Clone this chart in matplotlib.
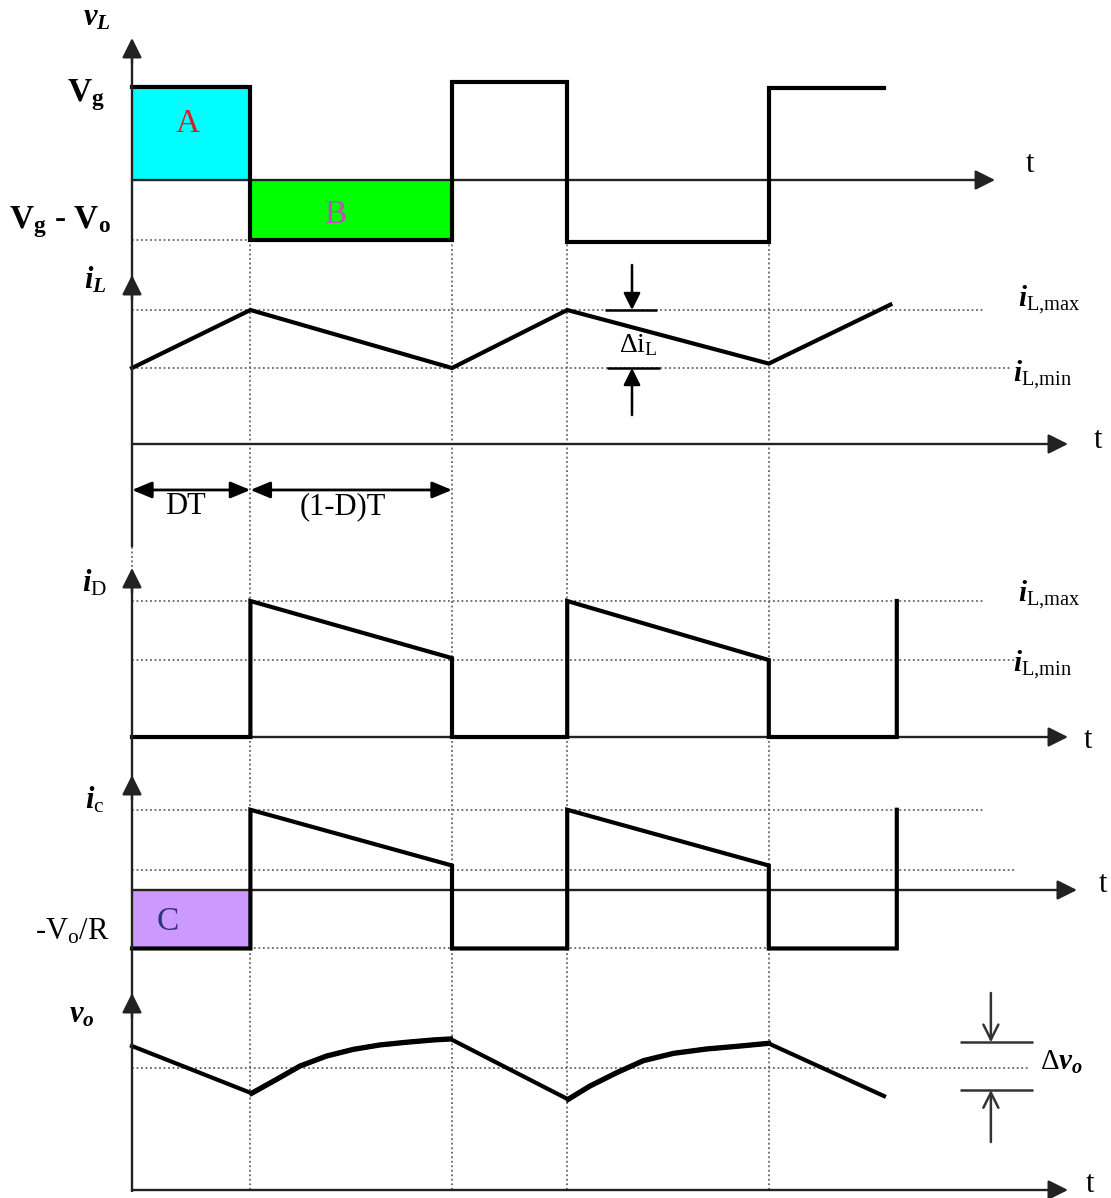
import numpy as np
import matplotlib.pyplot as plt

plt.rcParams['font.family'] = 'Liberation Serif'
plt.rcParams['mathtext.fontset'] = 'custom'
plt.rcParams['mathtext.rm'] = 'Liberation Serif'
plt.rcParams['mathtext.it'] = 'Liberation Serif:italic'
plt.rcParams['mathtext.bf'] = 'Liberation Serif:bold'
plt.rcParams['mathtext.bfit'] = 'Liberation Serif:italic:bold'

# time in units of T, switching edges at DT, T, T+DT, 2T
D = 0.37
t_edges = [0, 0.37, 1.0, 1.36, 1.99]

# v_L (V_g = 1)
vL_t = [0, 0.37, 0.37, 1.0, 1.0, 1.36, 1.36, 1.99, 1.99, 2.35]
vL_v = [1.0, 1.0, -0.645, -0.645, 1.05, 1.05, -0.665, -0.665, 0.99, 0.99]
Vg_minus_Vo = -0.645

# i_L
iL_t = [0, 0.37, 1.0, 1.36, 1.99, 2.37]
iL_v = [0.567, 1.0, 0.567, 1.0, 0.6, 1.04]
iL_max, iL_min = 1.0, 0.567

# i_D
iD_t = [0, 0.37, 0.37, 1.0, 1.0, 1.36, 1.36, 1.99, 1.99, 2.39, 2.39]
iD_v = [0, 0, 1.0, 0.58, 0, 0, 1.0, 0.566, 0, 0, 1.0]

# i_c
ic_t = [0, 0.37, 0.37, 1.0, 1.0, 1.36, 1.36, 1.99, 1.99, 2.39, 2.39]
ic_v = [-0.43, -0.43, 0.59, 0.18, -0.43, -0.43, 0.59, 0.18, -0.43, -0.43, 0.59]
ic_top, ic_low, ic_neg = 0.59, 0.15, -0.43

# v_o (V_o = 1), charging arcs read point by point
vo_t = [0, 0.374, 0.452, 0.525, 0.608, 0.692, 0.775, 0.858, 0.942, 0.995,
        1.363, 1.431, 1.515, 1.598, 1.692, 1.796, 1.9, 1.989, 2.35]
vo_v = [1.18, 0.793, 0.907, 1.016, 1.098, 1.153, 1.189, 1.211, 1.23, 1.238,
        0.743, 0.852, 0.962, 1.06, 1.12, 1.156, 1.18, 1.202, 0.77]
Vo_avg, dvo_hi, dvo_lo = 1.0, 1.21, 0.82

W, H = 1111, 1198
X0, X1 = -132 / 320, (W - 132) / 320
fig = plt.figure(figsize=(W / 100, H / 100), dpi=100)

DOT = dict(color='#666666', lw=1.3, linestyle=(0, (1, 1.5)))
WAVE = dict(color='black', lw=3, solid_joinstyle='miter', zorder=5)
AXC = '#222222'


def arrow(ax, xy, xyt, style='-|>', ms=20, lw=1.7, color=AXC):
    ax.annotate('', xy=xy, xytext=xyt,
                arrowprops=dict(arrowstyle=style + ',head_length=0.6,head_width=0.3',
                                mutation_scale=ms, lw=lw, color=color,
                                shrinkA=0, shrinkB=0))


def panel(top, bot, zero, unit):
    ax = fig.add_axes([0, 1 - bot / H, 1, (bot - top) / H])
    ax.set_xlim(X0, X1)
    ax.set_ylim((zero - bot) / unit, (zero - top) / unit)
    ax.axis('off')
    return ax


def lab(px, py, s, size=22, ha='center', color='black', weight='normal'):
    fig.text(px / W, 1 - py / H, s, ha=ha, va='center', fontsize=size,
             color=color, fontweight=weight)


# dotted switching lines under everything
under = fig.add_axes([0, 0, 1, 1])
under.set_xlim(X0, X1)
under.set_ylim(H, 0)
under.axis('off')
under.vlines(t_edges, 240, 1192, **DOT)

# v_L
ax = panel(0, 262, 180, 93)
ax.fill_between([0, D], 0, vL_v[0], color='#00FFFF', lw=0)
ax.fill_between([D, 1.0], Vg_minus_Vo, 0, color='#00FF00', lw=0)
ax.hlines(Vg_minus_Vo, 0, D, **DOT)
ax.plot(vL_t, vL_v, **WAVE)
arrow(ax, (2.697, 0), (0, 0))

# i_L
ax = panel(262, 548, 444, 134)
ax.hlines(iL_max, 0, 2.666, **DOT)
ax.hlines(iL_min, 0, 2.744, **DOT)
ax.plot(iL_t, iL_v, **WAVE)
arrow(ax, (2.925, 0), (0, 0))
arrow(ax, (1.5625, iL_max), (1.5625, 1.336), ms=17, lw=1.8, color='black')
arrow(ax, (1.5625, iL_min), (1.5625, 0.216), ms=17, lw=1.8, color='black')
ax.hlines(iL_max, 1.478, 1.64, color='black', lw=1.8)
ax.hlines(iL_min, 1.484, 1.65, color='black', lw=1.8)
for a, b in [(0, D), (D, 1.0)]:
    ax.annotate('', xy=(b, -0.343), xytext=(a, -0.343),
                arrowprops=dict(arrowstyle='<|-|>,head_length=0.6,head_width=0.25',
                                mutation_scale=20, lw=2, color='black',
                                shrinkA=0, shrinkB=0))

# i_D
ax = panel(548, 755, 737, 136)
ax.hlines(iL_max, 0, 2.666, **DOT)
ax.hlines(iL_min, 0, 2.76, **DOT)
ax.plot(iD_t, iD_v, **WAVE)
arrow(ax, (2.925, 0), (0, 0))

# i_c
ax = panel(755, 975, 890, 136)
ax.fill_between([0, D], ic_neg, 0, color='#CC99FF', lw=0)
ax.hlines(ic_top, 0, 2.666, **DOT)
ax.hlines(ic_low, 0, 2.76, **DOT)
ax.hlines(ic_neg, 0, 2.39, **DOT)
ax.plot(ic_t, ic_v, **WAVE)
arrow(ax, (2.953, 0), (0, 0))

# v_o
ax = panel(975, 1198, 1190, 122)
ax.hlines(Vo_avg, 0, 2.806, **DOT)
ax.plot(vo_t, vo_v, color='black', lw=3, zorder=5)
ax.plot(vo_t[1:10], vo_v[1:10], color='black', lw=3.8, zorder=6,
        solid_joinstyle='round')
ax.plot(vo_t[10:18], vo_v[10:18], color='black', lw=3.8, zorder=6,
        solid_joinstyle='round')
arrow(ax, (2.925, 0), (0, 0))
ax.hlines([dvo_hi, dvo_lo], 2.5875, 2.8156, color='#333333', lw=1.8)
arrow(ax, (2.684, dvo_hi), (2.684, 1.615), style='->', ms=18, lw=1.8, color='#333333')
arrow(ax, (2.684, dvo_lo), (2.684, 0.393), style='->', ms=18, lw=1.8, color='#333333')

# vertical axes on top
top = fig.add_axes([0, 0, 1, 1])
top.set_xlim(X0, X1)
top.set_ylim(H, 0)
top.axis('off')
top.vlines(0, 45, 547, color=AXC, lw=1.7)
top.vlines(0, 575, 1192, color=AXC, lw=1.7)
for tip in [38, 275, 568, 775, 993]:
    arrow(top, (0, tip), (0, tip + 25))

# labels
lab(97, 18, r'$\mathbfit{v}_{\mathbfit{L}}$')
lab(86, 95, r'$\mathbf{V}_{\mathbf{g}}$', 24)
lab(60, 222, r'$\mathbf{V}_{\mathbf{g}}$ - $\mathbf{V}_{\mathbf{o}}$', 24, weight='bold')
lab(188, 124, 'A', 24, color='#D42020')
lab(335, 215, 'B', 24, color='#CC44CC')
lab(1030, 165, 't')
lab(95, 280, r'$\mathbfit{i}_{\mathbfit{L}}$')
lab(638, 345, r'$\Delta\mathrm{i}_{\mathrm{L}}$', 20)
lab(1018, 300, r'$\mathbfit{i}_{\mathrm{L{,}max}}$', 21, ha='left')
lab(1013, 375, r'$\mathbfit{i}_{\mathrm{L{,}min}}$', 21, ha='left')
lab(1098, 440, 't')
lab(185, 507, 'DT')
lab(343, 507, '(1-D)T')
lab(95, 583, r'$\mathbfit{i}_{\mathrm{D}}$')
lab(1018, 595, r'$\mathbfit{i}_{\mathrm{L{,}max}}$', 21, ha='left')
lab(1013, 665, r'$\mathbfit{i}_{\mathrm{L{,}min}}$', 21, ha='left')
lab(1088, 740, 't')
lab(95, 800, r'$\mathbfit{i}_{\mathrm{c}}$')
lab(1103, 885, 't')
lab(72, 932, r'-$\mathrm{V_o}$/R', 22)
lab(168, 922, 'C', 24, color='#333377')
lab(82, 1015, r'$\mathbfit{v}_{\mathbfit{o}}$')
lab(1040, 1062, r'$\Delta\mathbfit{v}_{\mathbfit{o}}$', 21, ha='left')
lab(1090, 1185, 't')

plt.savefig('out.png', dpi=100)
plt.close()
